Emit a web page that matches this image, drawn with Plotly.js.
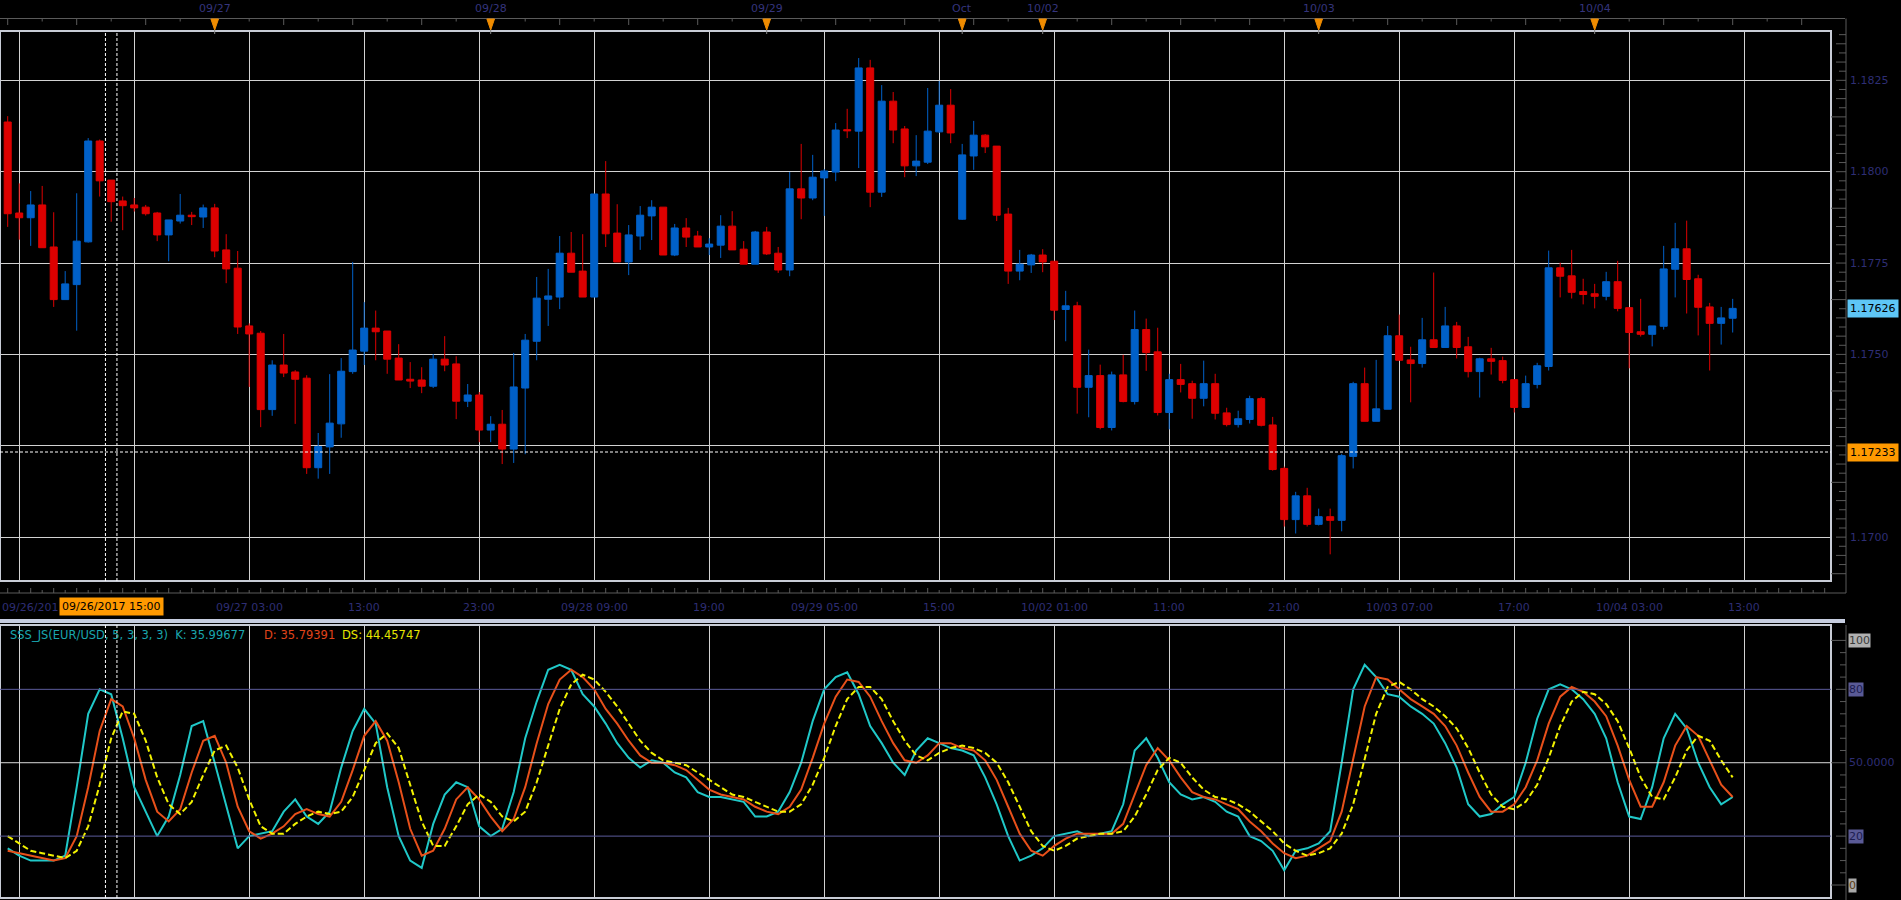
<!DOCTYPE html>
<html><head><meta charset="utf-8">
<script src="https://cdn.plot.ly/plotly-3.0.1.min.js"></script>
<style>html,body{margin:0;padding:0;background:#000;overflow:hidden}#chart{width:1901px;height:900px}</style>
</head><body><div id="chart"></div>
<script>
// ---------- DATA (EUR/USD hourly) ----------
const openP = [1.18136,1.17887,1.17874,1.17909,1.17794,1.17650,1.17691,1.17808,1.18084,1.17977,1.17920,1.17909,1.17903,1.17887,1.17827,1.17865,1.17881,1.17876,1.17901,1.17786,1.17736,1.17578,1.17558,1.17349,1.17471,1.17452,1.17435,1.17190,1.17247,1.17310,1.17453,1.17509,1.17572,1.17564,1.17490,1.17432,1.17430,1.17413,1.17487,1.17474,1.17372,1.17389,1.17293,1.17309,1.17241,1.17408,1.17536,1.17651,1.17657,1.17777,1.17728,1.17657,1.17939,1.17832,1.17753,1.17824,1.17879,1.17903,1.17772,1.17846,1.17824,1.17794,1.17799,1.17851,1.17788,1.17747,1.17835,1.17777,1.17731,1.17953,1.17928,1.17983,1.17999,1.18115,1.18111,1.18284,1.17944,1.18193,1.18117,1.18016,1.18026,1.18109,1.18182,1.17870,1.18043,1.18100,1.18070,1.17884,1.17728,1.17745,1.17772,1.17755,1.17623,1.17633,1.17410,1.17442,1.17300,1.17444,1.17371,1.17568,1.17507,1.17341,1.17431,1.17420,1.17380,1.17420,1.17340,1.17308,1.17322,1.17379,1.17307,1.17188,1.17048,1.17113,1.17035,1.17056,1.17046,1.17221,1.17420,1.17317,1.17350,1.17551,1.17485,1.17475,1.17540,1.17519,1.17578,1.17521,1.17453,1.17488,1.17483,1.17431,1.17355,1.17418,1.17467,1.17737,1.17715,1.17672,1.17666,1.17659,1.17699,1.17628,1.17562,1.17555,1.17577,1.17733,1.17789,1.17707,1.17630,1.17585,1.17599];
const highP = [1.18152,1.17968,1.17947,1.17961,1.17889,1.17728,1.17941,1.18092,1.18088,1.17977,1.17932,1.17928,1.17909,1.17890,1.17868,1.17939,1.17890,1.17910,1.17912,1.17829,1.17783,1.17585,1.17564,1.17484,1.17556,1.17457,1.17443,1.17285,1.17446,1.17490,1.17753,1.17643,1.17620,1.17564,1.17528,1.17479,1.17465,1.17501,1.17550,1.17495,1.17419,1.17397,1.17331,1.17348,1.17504,1.17556,1.17712,1.17734,1.17824,1.17835,1.17829,1.17939,1.18029,1.17911,1.17854,1.17906,1.17922,1.17903,1.17857,1.17873,1.17838,1.17818,1.17881,1.17892,1.17810,1.17838,1.17849,1.17794,1.17999,1.18076,1.18046,1.18007,1.18133,1.18172,1.18311,1.18306,1.18237,1.18218,1.18125,1.18100,1.18229,1.18248,1.18226,1.18076,1.18139,1.18103,1.18070,1.17901,1.17786,1.17775,1.17788,1.17755,1.17674,1.17644,1.17513,1.17472,1.17453,1.17499,1.17620,1.17598,1.17573,1.17447,1.17474,1.17428,1.17483,1.17447,1.17354,1.17346,1.17387,1.17384,1.17329,1.17193,1.17124,1.17135,1.17078,1.17078,1.17228,1.17425,1.17464,1.17485,1.17578,1.17609,1.17521,1.17600,1.17724,1.17630,1.17589,1.17548,1.17491,1.17518,1.17494,1.17431,1.17442,1.17477,1.17784,1.17751,1.17786,1.17707,1.17693,1.17726,1.17756,1.17628,1.17652,1.17578,1.17797,1.17860,1.17866,1.17718,1.17641,1.17630,1.17652];
const lowP = [1.17849,1.17814,1.17797,1.17792,1.17630,1.17650,1.17565,1.17806,1.17932,1.17863,1.17840,1.17891,1.17880,1.17810,1.17755,1.17858,1.17854,1.17846,1.17766,1.17695,1.17556,1.17411,1.17301,1.17332,1.17438,1.17310,1.17173,1.17160,1.17173,1.17272,1.17447,1.17471,1.17484,1.17447,1.17430,1.17408,1.17394,1.17408,1.17454,1.17323,1.17356,1.17260,1.17260,1.17200,1.17203,1.17227,1.17484,1.17578,1.17624,1.17725,1.17657,1.17657,1.17794,1.17753,1.17717,1.17786,1.17813,1.17772,1.17769,1.17794,1.17794,1.17772,1.17764,1.17786,1.17747,1.17747,1.17772,1.17723,1.17714,1.17870,1.17922,1.17879,1.17974,1.18092,1.18010,1.17903,1.17931,1.18078,1.17985,1.17988,1.18021,1.18106,1.18078,1.17868,1.18005,1.18051,1.17865,1.17693,1.17703,1.17723,1.17725,1.17594,1.17536,1.17338,1.17328,1.17295,1.17292,1.17369,1.17363,1.17455,1.17333,1.17295,1.17396,1.17324,1.17358,1.17322,1.17303,1.17300,1.17311,1.17303,1.17182,1.17029,1.17010,1.17029,1.17032,1.16953,1.17016,1.17188,1.17317,1.17317,1.17350,1.17484,1.17369,1.17464,1.17519,1.17519,1.17489,1.17437,1.17382,1.17445,1.17421,1.17341,1.17355,1.17407,1.17456,1.17656,1.17653,1.17637,1.17626,1.17648,1.17618,1.17462,1.17549,1.17522,1.17568,1.17656,1.17612,1.17552,1.17456,1.17527,1.17560];
const closeP = [1.17885,1.17874,1.17909,1.17792,1.17650,1.17693,1.17810,1.18084,1.17975,1.17918,1.17907,1.17901,1.17885,1.17827,1.17868,1.17881,1.17877,1.17901,1.17783,1.17734,1.17575,1.17556,1.17349,1.17471,1.17449,1.17432,1.17190,1.17248,1.17312,1.17454,1.17512,1.17572,1.17562,1.17487,1.17430,1.17427,1.17413,1.17487,1.17471,1.17372,1.17389,1.17293,1.17309,1.17241,1.17411,1.17539,1.17654,1.17660,1.17777,1.17725,1.17657,1.17939,1.17830,1.17753,1.17827,1.17881,1.17903,1.17772,1.17846,1.17821,1.17794,1.17802,1.17851,1.17786,1.17747,1.17835,1.17775,1.17731,1.17953,1.17928,1.17985,1.18002,1.18114,1.18112,1.18284,1.17944,1.18193,1.18114,1.18016,1.18029,1.18111,1.18182,1.18106,1.18046,1.18100,1.18068,1.17881,1.17728,1.17747,1.17772,1.17753,1.17621,1.17633,1.17410,1.17442,1.17300,1.17444,1.17371,1.17568,1.17505,1.17341,1.17431,1.17418,1.17380,1.17420,1.17339,1.17308,1.17324,1.17379,1.17306,1.17185,1.17048,1.17113,1.17035,1.17056,1.17046,1.17223,1.17420,1.17317,1.17351,1.17551,1.17484,1.17475,1.17540,1.17519,1.17578,1.17519,1.17453,1.17488,1.17481,1.17429,1.17355,1.17420,1.17469,1.17737,1.17714,1.17670,1.17664,1.17659,1.17699,1.17626,1.17560,1.17555,1.17578,1.17734,1.17789,1.17705,1.17629,1.17585,1.17600,1.17626];

const stochK = [15,12,10,10,10,12,40,70,80,78,60,40,30,20,28,45,65,67,50,32,15,20,21,22,30,35,28,25,30,48,63,72,66,40,20,10,7,25,37,42,40,24,20,23,38,60,75,88,90,88,78,73,66,58,52,48,51,50,46,44,38,36,36,35,34,28,28,30,38,50,67,80,85,87,78,65,58,50,45,55,60,58,56,55,53,44,33,20,10,12,15,20,21,22,20,21,22,33,55,60,52,42,37,35,36,34,30,28,20,18,14,6,14,15,17,22,50,80,90,85,78,77,73,70,66,58,48,33,28,29,33,36,50,68,80,82,80,76,70,60,42,28,27,40,60,70,64,50,40,33,36];
const stochD = [14,13,12,11,10,11,20,40,63,76,73,60,43,30,26,31,46,59,61,50,32,22,19,21,24,29,31,29,28,34,47,61,67,59,42,23,12,14,23,35,40,35,28,22,27,40,58,74,84,88,85,80,72,66,59,53,50,50,49,47,43,39,37,36,35,32,30,29,32,39,52,66,77,84,83,77,67,58,51,50,53,58,58,56,55,51,43,32,21,14,12,16,19,21,21,21,21,25,37,49,56,51,44,38,36,35,33,31,26,22,17,13,11,12,15,18,30,51,73,85,84,80,76,73,70,65,57,46,36,30,30,33,40,51,66,77,81,79,75,69,57,43,32,32,42,57,65,61,51,41,36];
const stochDS = [20,17,14,13,12,11,14,24,41,60,71,70,59,44,33,29,34,45,55,57,48,35,24,21,21,25,28,30,29,30,36,47,58,62,56,41,26,16,16,24,33,37,34,28,26,30,42,57,72,82,86,84,79,73,66,59,54,51,50,49,46,43,40,37,36,34,32,30,30,33,41,52,65,76,81,81,76,67,59,53,51,54,56,57,56,54,50,42,32,22,16,14,16,19,20,21,21,22,28,37,47,52,50,44,39,36,35,33,30,26,22,17,14,12,13,15,21,33,51,70,81,83,80,76,73,69,64,56,46,37,32,31,34,41,52,65,75,79,78,74,67,56,44,36,35,44,55,61,59,51,44];

const gridIdx = [1,11,21,31,41,51,61,71,81,91,101,111,121,131,141,151];
const bottomLabelIdx = [21,31,41,51,61,71,81,91,101,111,121,131,141,151];
const bottomLabelText = ['09/27 03:00','13:00','23:00','09/28 09:00','19:00','09/29 05:00','15:00','10/02 01:00','11:00','21:00','10/03 07:00','17:00','10/04 03:00','13:00'];
const firstLabelText = '09/26/201';
const cursorIdx = 9, cursorLabel = '09/26/2017 15:00';
const topDateIdx = [18,42,66,83,90,114,138];
const topDateText = ['09/27','09/28','09/29','Oct','10/02','10/03','10/04'];
const priceGrid = [1.1700,1.1725,1.1750,1.1775,1.1800,1.1825];
const priceTicks = [1.1700,1.1750,1.1775,1.1800,1.1825];
const priceTickText = ['1.1700','1.1750','1.1775','1.1800','1.1825'];
const lastPrice = 1.17626, cursorPrice = 1.17233;
const stochTicks = [0,20,50,80,100];
const stochTickText = ['0','20','50.0000','80','100'];
const legendMain = 'SSS_JS(EUR/USD, 5, 3, 3, 3)\u00a0 K: 35.99677';
const legendD = 'D: 35.79391';
const legendDS = 'DS: 44.45747';

// ---------- LAYOUT GEOMETRY ----------
const W = 1901, H = 900, ML = 0, MR = 70, MT = 31, MB = 2;
const PW = W - ML - MR, PH = H - MT - MB;
const py = p => (H - MB - p) / PH;      // pixel y -> paper
const px = p => (p - ML) / PW;          // pixel x -> paper
const idx = closeP.map((_, i) => i);
const FONT = 'DejaVu Sans';
const AXC = '#2e2e74';
const GRID = '#d2d2d2';
const TICKC = '#5a5a5a';

const traces = [
  {type:'candlestick', x: idx, open: openP, high: highP, low: lowP, close: closeP,
   xaxis:'x', yaxis:'y', whiskerwidth:0, hoverinfo:'none', showlegend:false,
   increasing:{line:{color:'#0060c8', width:1}, fillcolor:'#0060c8'},
   decreasing:{line:{color:'#dd0000', width:1}, fillcolor:'#dd0000'}},
  {type:'scatter', mode:'lines', x: idx, y: stochK, xaxis:'x', yaxis:'y2', hoverinfo:'none', showlegend:false,
   line:{color:'#20c8c8', width:2}},
  {type:'scatter', mode:'lines', x: idx, y: stochD, xaxis:'x', yaxis:'y2', hoverinfo:'none', showlegend:false,
   line:{color:'#e8501a', width:2}},
  {type:'scatter', mode:'lines', x: idx, y: stochDS, xaxis:'x', yaxis:'y2', hoverinfo:'none', showlegend:false,
   line:{color:'#f2f200', width:2, dash:'6px,3px'}}
];

const shapes = [];
// frames
shapes.push({type:'rect', xref:'paper', yref:'paper', x0:0, x1:1, y0:py(581), y1:py(31), line:{color:'#c8ccd6', width:2}, layer:'above'});
shapes.push({type:'rect', xref:'paper', yref:'paper', x0:0, x1:1, y0:py(898), y1:py(625), line:{color:'#c8ccd6', width:2}, layer:'above'});
// separator bar
shapes.push({type:'rect', xref:'paper', yref:'paper', x0:0, x1:px(1845), y0:py(623), y1:py(619), fillcolor:'#c6cde0', line:{width:0}});
// top axis line + ticks
shapes.push({type:'line', xref:'paper', yref:'paper', x0:0, x1:px(1845), y0:py(18.5), y1:py(18.5), line:{color:TICKC, width:1}});
let tp = '';
for (let i = 0; i <= 158; i += 3) tp += `M${i},${py(18.5)}L${i},${py(i % 6 === 0 ? 25 : 21.5)}`;
shapes.push({type:'path', xref:'x', yref:'paper', path: tp, line:{color:TICKC, width:1}});
// top triangles with stems
topDateIdx.forEach(i => {
  shapes.push({type:'path', xref:'x', yref:'paper', path:`M${i-0.33},${py(19)}L${i+0.33},${py(19)}L${i},${py(30)}Z`, fillcolor:'#f08c00', line:{color:'#f08c00', width:1}});
  shapes.push({type:'line', xref:'x', yref:'paper', x0:i, x1:i, y0:py(30), y1:py(34), line:{color:'#8a8a8a', width:1}});
});
// bottom axis line + ticks
shapes.push({type:'line', xref:'paper', yref:'paper', x0:0, x1:px(1846), y0:py(593), y1:py(593), line:{color:TICKC, width:1}});
let bp = '';
for (let i = 0; i <= 158; i++) bp += `M${i},${py(593)}L${i},${py(i % 2 === 0 ? 588 : 590)}`;
shapes.push({type:'path', xref:'x', yref:'paper', path: bp, line:{color:TICKC, width:1}});
// right axis lines
shapes.push({type:'line', xref:'paper', yref:'paper', x0:px(1846), x1:px(1846), y0:py(593), y1:py(18.5), line:{color:TICKC, width:1}});
shapes.push({type:'line', xref:'paper', yref:'paper', x0:px(1846), x1:px(1846), y0:py(900), y1:py(625), line:{color:TICKC, width:1}});
// right price ticks
let rp = '';
for (let k = 0; k <= 60; k++) {
  const v = 1.1690 + k * 0.00025;
  const major = (k % 10 === 0);
  rp += `M${px(major ? 1831 : (k % 2 === 0 ? 1836 : 1839))},${v.toFixed(5)}L${px(1846)},${v.toFixed(5)}`;
}
shapes.push({type:'path', xref:'paper', yref:'y', path: rp, line:{color:TICKC, width:1}});
// stochastic ticks
let sp = '';
for (let v = 0; v <= 100; v += 5) {
  const x0 = (v % 50 === 0) ? 1831 : ((v === 20 || v === 80) ? 1836 : 1840);
  sp += `M${px(x0)},${v}L${px(1846)},${v}`;
}
shapes.push({type:'path', xref:'paper', yref:'y2', path: sp, line:{color:TICKC, width:1}});
// stochastic level lines
shapes.push({type:'line', xref:'paper', yref:'y2', x0:0, x1:1, y0:80, y1:80, line:{color:'#5c5c9c', width:1}});
shapes.push({type:'line', xref:'paper', yref:'y2', x0:0, x1:1, y0:20, y1:20, line:{color:'#5c5c9c', width:1}});
shapes.push({type:'line', xref:'paper', yref:'y2', x0:0, x1:1, y0:50, y1:50, line:{color:'#dcdcdc', width:1}});
// cursor dotted lines
[cursorIdx - 0.5, cursorIdx + 0.5].forEach(xv => {
  shapes.push({type:'line', xref:'x', yref:'paper', x0:xv, x1:xv, y0:py(581), y1:py(31), line:{color:'#ffffff', width:1, dash:'3px,2px'}, layer:'above'});
  shapes.push({type:'line', xref:'x', yref:'paper', x0:xv, x1:xv, y0:py(898), y1:py(625), line:{color:'#ffffff', width:1, dash:'3px,2px'}, layer:'above'});
});
shapes.push({type:'line', xref:'paper', yref:'y', x0:0, x1:1, y0:cursorPrice, y1:cursorPrice, line:{color:'#ffffff', width:1, dash:'3px,2px'}, layer:'above'});

// ---------- ANNOTATIONS ----------
const ann = [];
const f = (c, s) => ({family: FONT, size: s || 11, color: c});
topDateIdx.forEach((i, k) => ann.push({xref:'x', yref:'paper', x:i, y:py(9), text:topDateText[k], showarrow:false, xanchor:'center', yanchor:'middle', font:f('#34347c')}));
ann.push({xref:'paper', yref:'paper', x:0, y:py(607), text:firstLabelText, showarrow:false, xanchor:'left', yanchor:'middle', font:f(AXC)});
bottomLabelIdx.forEach((i, k) => ann.push({xref:'x', yref:'paper', x:i, y:py(607), text:bottomLabelText[k], showarrow:false, xanchor:'center', yanchor:'middle', font:f(AXC)}));
ann.push({xref:'x', yref:'paper', x:cursorIdx, y:py(606), text:cursorLabel, showarrow:false, xanchor:'center', yanchor:'middle', font:f('#000000'), bgcolor:'#ff9900', borderpad:2});
priceTicks.forEach((v, k) => ann.push({xref:'paper', yref:'y', x:px(1848), y:v, text:priceTickText[k], showarrow:false, xanchor:'left', yanchor:'middle', font:f(AXC)}));
ann.push({xref:'paper', yref:'y', x:px(1847), y:lastPrice, text:lastPrice.toFixed(5), showarrow:false, xanchor:'left', yanchor:'middle', font:f('#000000'), bgcolor:'#5ec6f6', borderpad:2});
ann.push({xref:'paper', yref:'y', x:px(1847), y:cursorPrice, text:cursorPrice.toFixed(5), showarrow:false, xanchor:'left', yanchor:'middle', font:f('#000000'), bgcolor:'#ff9900', borderpad:2});
const stochStyle = {0:['#a8a8a8','#5a3a10'],20:['#5a5a96','#1c1c50'],50:[null,AXC],80:['#5a5a96','#1c1c50'],100:['#b0b0b0','#3a3a3a']};
stochTicks.forEach((v, k) => {
  const st = stochStyle[v];
  const a = {xref:'paper', yref:'y2', x:px(1848), y:v, text:stochTickText[k], showarrow:false, xanchor:'left', yanchor:'middle', font:f(st[1]), borderpad:0};
  if (st[0]) a.bgcolor = st[0];
  ann.push(a);
});
ann.push({xref:'paper', yref:'paper', x:px(8), y:py(635), text:legendMain, showarrow:false, xanchor:'left', yanchor:'middle', font:f('#1aa6ae', 11.5)});
ann.push({xref:'paper', yref:'paper', x:px(262), y:py(635), text:legendD, showarrow:false, xanchor:'left', yanchor:'middle', font:f('#e0441a', 11.5)});
ann.push({xref:'paper', yref:'paper', x:px(340), y:py(635), text:legendDS, showarrow:false, xanchor:'left', yanchor:'middle', font:f('#e6e600', 11.5)});

const layout = {
  width: W, height: H,
  margin: {l: ML, r: MR, t: MT, b: MB, pad: 0},
  paper_bgcolor: '#000000', plot_bgcolor: '#000000',
  showlegend: false, hovermode: false, dragmode: false,
  boxgap: 0.39, boxgroupgap: 0,
  font: {family: FONT, size: 11, color: AXC},
  xaxis: {range: [-0.67, 158.55], tickvals: gridIdx, showticklabels: false, ticks: '', showgrid: true, gridcolor: GRID, gridwidth: 1,
          zeroline: false, showline: false, rangeslider: {visible: false}, fixedrange: true, anchor: 'y'},
  yaxis: {domain: [py(581), 1], range: [1.16880, 1.18385], tickvals: priceGrid, showticklabels: false, ticks: '', showgrid: true,
          gridcolor: GRID, gridwidth: 1, zeroline: false, showline: false, fixedrange: true},
  yaxis2: {domain: [0, py(625)], range: [-5.3, 106.3], showticklabels: false, ticks: '', showgrid: false, zeroline: false,
           showline: false, fixedrange: true, anchor: 'x'},
  shapes: shapes,
  annotations: ann
};
Plotly.newPlot('chart', traces, layout, {displayModeBar: false, staticPlot: true});
</script></body></html>
